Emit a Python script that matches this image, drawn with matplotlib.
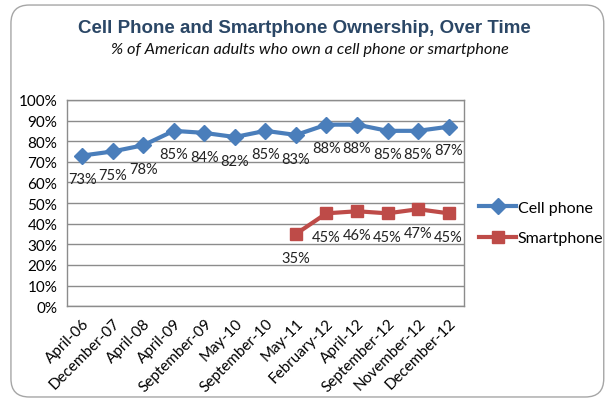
import matplotlib
matplotlib.use("Agg")
import matplotlib.pyplot as plt
from matplotlib.patches import FancyBboxPatch
import numpy as np

categories = ["April-06", "December-07", "April-08", "April-09", "September-09", "May-10",
              "September-10", "May-11", "February-12", "April-12", "September-12",
              "November-12", "December-12"]
cell_phone = [73, 75, 78, 85, 84, 82, 85, 83, 88, 88, 85, 85, 87]
smartphone = [None, None, None, None, None, None, None, 35, 45, 46, 45, 47, 45]
yticks = [0, 10, 20, 30, 40, 50, 60, 70, 80, 90, 100]

plt.rcParams['font.family'] = ['Lato', 'DejaVu Sans']

fig = plt.figure(figsize=(6.08, 4.02), dpi=100)
fig.patch.set_facecolor('white')
border = FancyBboxPatch((0.018, 0.01), 0.975, 0.975, boxstyle="round,pad=0,rounding_size=0.03",
                        transform=fig.transFigure, facecolor='white', edgecolor='#a6a6a6',
                        linewidth=1.0, mutation_aspect=608/402, zorder=-10)
fig.patches.append(border)

ax = fig.add_axes([0.110, 0.236, 0.653, 0.513])
ax.set_facecolor('none')
x = np.arange(len(categories))
blue = '#4A7EBB'
red = '#BE4B48'

ax.plot(x, cell_phone, color=blue, linewidth=3, marker='D', markersize=8, label='Cell phone', zorder=3)
sx = [i for i, v in enumerate(smartphone) if v is not None]
sv = [v for v in smartphone if v is not None]
ax.plot(sx, sv, color=red, linewidth=3, marker='s', markersize=8, label='Smartphone', zorder=3)

for i, v in zip(x, cell_phone):
    ax.annotate(f"{v}%", (i, v), xytext=(0, -17), textcoords='offset points',
                ha='center', va='center', fontsize=10.5, color='#222222')
for i, v in zip(sx, sv):
    ax.annotate(f"{v}%", (i, v), xytext=(0, -17), textcoords='offset points',
                ha='center', va='center', fontsize=10.5, color='#222222')

ax.set_xlim(-0.5, len(categories) - 0.5)
ax.set_ylim(0, 100)
ax.set_yticks(yticks)
ax.set_yticklabels([f"{t}%" for t in yticks], fontsize=11)
ax.set_xticks(x)
ax.set_xticklabels(categories, rotation=45, ha='right', rotation_mode='anchor', fontsize=11)
ax.tick_params(axis='both', length=0, pad=7)
ax.grid(axis='y', color='#8c8c8c', linewidth=1)
ax.set_axisbelow(True)
for s in ax.spines.values():
    s.set_color('#8c8c8c')
    s.set_linewidth(1)

leg = fig.legend(handles=ax.get_lines(), labels=['Cell phone', 'Smartphone'],
                 loc='center left', bbox_to_anchor=(0.765, 0.443), frameon=False,
                 fontsize=11.5, handlelength=2.3, handletextpad=0.1, labelspacing=1.05)

fig.text(0.50, 0.928, "Cell Phone and Smartphone Ownership, Over Time", ha='center', va='center',
         fontsize=13.5, fontweight='bold', color='#2B4766',
         family=['Liberation Sans', 'DejaVu Sans'])
fig.text(0.51, 0.875, "% of American adults who own a cell phone or smartphone", ha='center',
         va='center', fontsize=11.8, style='italic', color='#111111')

fig.savefig('out.png', dpi=100)
